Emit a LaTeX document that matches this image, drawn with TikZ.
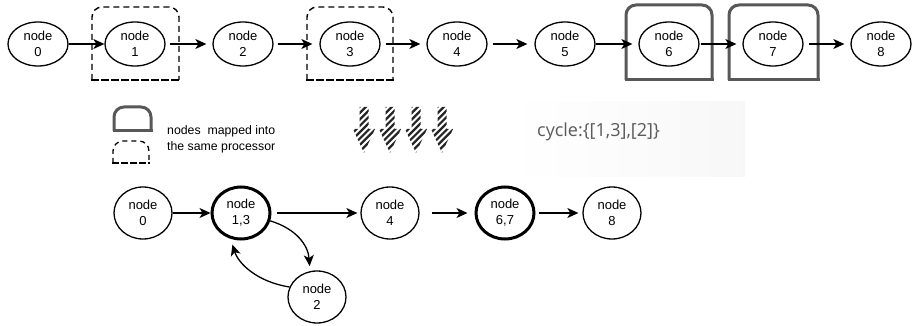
\documentclass[tikz,border=0pt]{standalone}
\usepackage{fontspec}
\setmainfont{Liberation Sans}
\newfontfamily\cycfont{Open Sans}
\usetikzlibrary{arrows.meta,shapes.geometric}
\definecolor{procgray}{RGB}{88,88,88}
\definecolor{cyctext}{RGB}{90,90,90}

% rounded-top processor frame: #1 style, (#2,#3) top left, (#4,#5) bottom right
\newcommand\procframe[5]{%
  \draw[#1,rounded corners=10pt] (#2,#5) -- (#2,#3) -- (#4,#3) -- (#4,#5);
  \draw[#1,line cap=rect] (#2,#5) -- (#4,#5);
}
% striped down arrow centred at x=#1
\newcommand\hatcharrow[1]{%
  \begin{scope}
    \clip (#1-4.5,107) -- (#1+4.5,107) -- (#1+4.5,129) -- (#1+11,129)
      -- (#1,153) -- (#1-11,129) -- (#1-4.5,129) -- cycle;
    \foreach \k in {0,...,12}
      \draw[line width=2.2pt,black!85] (#1-64+\k*6.4,160) -- ++(60,-60);
  \end{scope}
}

\begin{document}
\begin{tikzpicture}[x=1pt,y=-1pt,
  >={Stealth[length=11pt,width=10pt,inset=3pt]},
  task/.style={ellipse,draw,line width=1.3pt,minimum width=60pt,minimum height=44pt,
    inner sep=0pt,align=center,font=\fontsize{13}{16}\selectfont},
  round/.style={task,minimum width=58pt,minimum height=52pt},
  merged/.style={round,line width=3pt},
  flow/.style={->,line width=1.3pt},
  dashframe/.style={line width=1.4pt,dash pattern=on 6pt off 4pt},
  solidframe/.style={line width=3pt,draw=procgray},
  legtext/.style={anchor=base west,inner sep=0pt,font=\fontsize{12.3}{14}\selectfont}]
\useasboundingbox (0,0) rectangle (922,326);

% faint panel behind the cycle annotation
\path[left color=white,right color=black!3] (510,102) rectangle (745,177);

% processor frames around the original chain
\procframe{dashframe}{92}{7}{179}{80}
\procframe{dashframe}{307}{7}{393}{80}
\procframe{solidframe}{626}{5}{712}{80}
\procframe{solidframe}{729}{5}{818}{80}

% original chain
\node[task] (t0) at (38,44)  {node\\0};
\node[task] (t1) at (135,44) {node\\1};
\node[task] (t2) at (243,44) {node\\2};
\node[task] (t3) at (350,44) {node\\3};
\node[task] (t4) at (457,44) {node\\4};
\node[task] (t5) at (565,44) {node\\5};
\node[task] (t6) at (669,44) {node\\6};
\node[task] (t7) at (773,44) {node\\7};
\node[task] (t8) at (881,44) {node\\8};

\draw[flow] (t0) -- (t1);
\draw[flow,shorten <=4pt,shorten >=6pt] (t1) -- (t2);
\draw[flow,shorten <=4pt,shorten >=7pt] (t2) -- (t3);
\draw[flow,shorten <=5pt,shorten >=6pt] (t3) -- (t4);
\draw[flow,shorten <=5pt,shorten >=7pt] (t4) -- (t5);
\draw[flow,shorten >=6pt] (t5) -- (t6);
\draw[flow,shorten <=1pt,shorten >=6pt] (t6) -- (t7);
\draw[flow,shorten <=5pt,shorten >=6pt] (t7) -- (t8);

% legend
\procframe{solidframe}{114}{107}{151}{131}
\procframe{dashframe,line width=1.3pt,dash pattern=on 5pt off 4pt}{113}{141}{149}{163}
\node[legtext] (leg1) at (167,135) {nodes\ \ mapped into};
\node[legtext] (leg2) at (167,151) {the same processor};

% transformation arrows
\hatcharrow{364}
\hatcharrow{390}
\hatcharrow{416}
\hatcharrow{442}

\node[anchor=base west,inner sep=0pt,text=cyctext,font=\cycfont\fontsize{18}{20}\selectfont]
  (cyc) at (537,137) {cycle:\{[1,3],[2]\}};

% merged graph
\node[round]  (m0)  at (143,213) {node\\0};
\node[merged] (m13) at (241,213) {node\\1,3};
\node[round]  (m4)  at (390,213) {node\\4};
\node[merged] (m67) at (505,213) {node\\6,7};
\node[round]  (m8)  at (612,213) {node\\8};
\node[round]  (m2)  at (317,297) {node\\2};

\draw[flow] (m0) -- (m13);
\draw[flow,shorten <=5pt,shorten >=3pt] (m13) -- (m4);
\draw[flow,shorten <=12pt,shorten >=7pt] (m4) -- (m67);
\draw[flow,shorten <=3pt,shorten >=4pt] (m67) -- (m8);
\draw[flow,shorten >=5pt] (m13.-15) .. controls +(26,8) and +(-2,-26) .. (m2.105);
\draw[flow,shorten >=6pt] (m2.160) .. controls +(-32,-5) and +(8,25) .. (m13.-112);
\end{tikzpicture}
\end{document}
